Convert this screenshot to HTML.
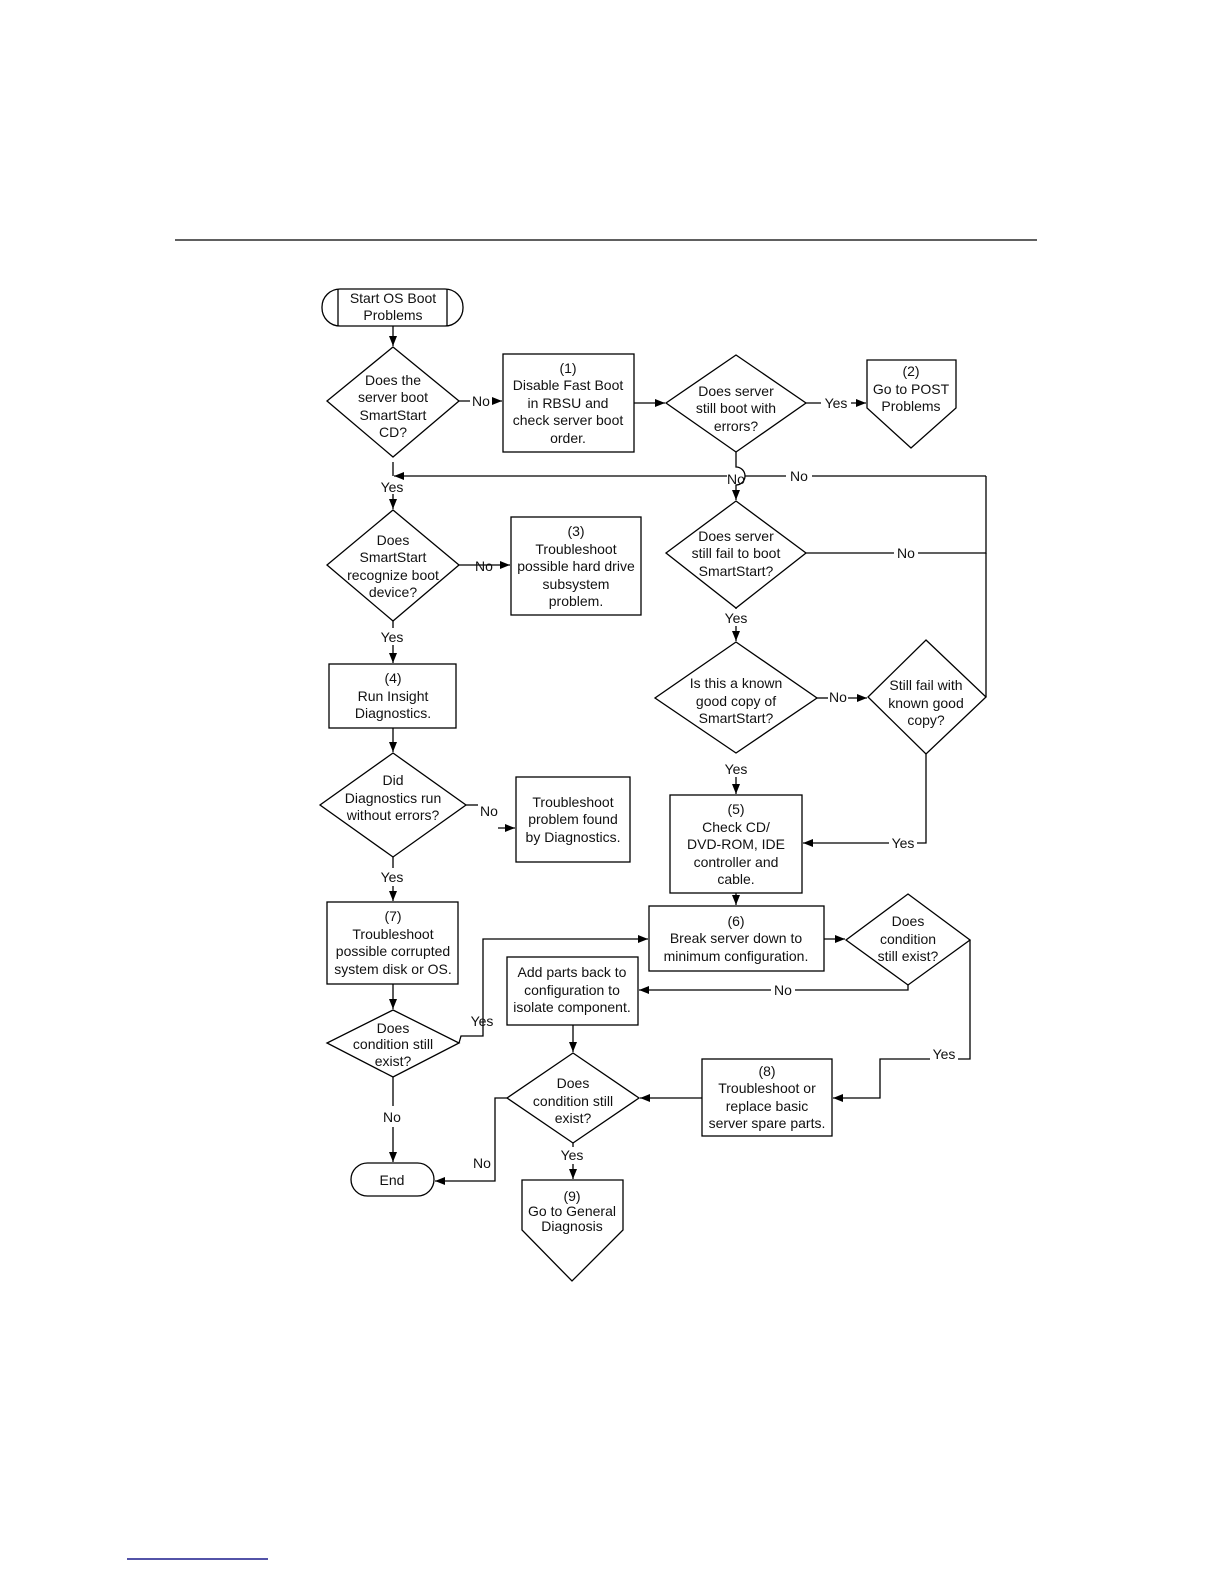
<!DOCTYPE html>
<html><head><meta charset="utf-8"><style>
html,body{margin:0;padding:0;background:#fff}
svg{display:block}
text{font-family:"Liberation Sans",sans-serif;font-size:14px;fill:#111;text-anchor:middle}
</style></head><body>
<svg width="1224" height="1584" viewBox="0 0 1224 1584" xmlns="http://www.w3.org/2000/svg">
<defs><marker id="a" markerWidth="10" markerHeight="8" refX="10" refY="4" orient="auto" markerUnits="userSpaceOnUse"><path d="M0,0 L10,4 L0,8 z" fill="#000"/></marker></defs>
<line x1="175" y1="240" x2="1037" y2="240" stroke="#000" stroke-width="1.2"/>
<line x1="127" y1="1559" x2="268" y2="1559" stroke="#1a1a8c" stroke-width="1.5"/>
<g fill="none" stroke="#000" stroke-width="1.3">
<!-- start -->
<rect x="322" y="289" width="141" height="37" rx="18"/>
<line x1="338" y1="289" x2="338" y2="326"/><line x1="447" y1="289" x2="447" y2="326"/>
<line x1="393" y1="326" x2="393" y2="346" marker-end="url(#a)"/>
<!-- D1 -->
<polygon points="393,347 459,401 393,457 327,401"/>
<line x1="459" y1="401" x2="502" y2="401" marker-end="url(#a)"/>
<rect x="503" y="354" width="131" height="98"/>
<line x1="634" y1="403" x2="665" y2="403" marker-end="url(#a)"/>
<polygon points="736,355 806,403 736,452 666,403"/>
<line x1="806" y1="403" x2="866" y2="403" marker-end="url(#a)"/>
<polygon points="867,360 956,360 956,408 911,448 867,408"/>
<!-- loop -->
<path d="M736,452 V467 A9,9 0 0 1 736,485 V500" marker-end="url(#a)"/>
<path d="M986,476 H745 M727,476 H394" marker-end="url(#a)"/>
<line x1="393" y1="462" x2="393" y2="476"/>
<line x1="393" y1="494" x2="393" y2="509" marker-end="url(#a)"/>
<!-- D3 -->
<polygon points="393,510 459,565 393,621 327,565"/>
<line x1="459" y1="565" x2="510" y2="565" marker-end="url(#a)"/>
<rect x="511" y="517" width="130" height="98"/>
<line x1="393" y1="621" x2="393" y2="628"/>
<line x1="393" y1="645" x2="393" y2="663" marker-end="url(#a)"/>
<rect x="329" y="664" width="127" height="64"/>
<line x1="393" y1="728" x2="393" y2="752" marker-end="url(#a)"/>
<!-- D7 -->
<polygon points="393,753 466,805 393,857 320,805"/>
<line x1="466" y1="805" x2="478" y2="805"/>
<line x1="498" y1="828" x2="515" y2="828" marker-end="url(#a)"/>
<rect x="516" y="777" width="114" height="85"/>
<line x1="393" y1="857" x2="393" y2="868"/>
<line x1="393" y1="886" x2="393" y2="901" marker-end="url(#a)"/>
<rect x="327" y="902" width="131" height="82"/>
<line x1="393" y1="984" x2="393" y2="1009" marker-end="url(#a)"/>
<!-- D8 -->
<polygon points="393,1010 459,1043 393,1077 327,1043"/>
<path d="M459,1043 L461,1036 H483 V939 H648" marker-end="url(#a)"/>
<line x1="393" y1="1077" x2="393" y2="1106"/>
<line x1="393" y1="1127" x2="393" y2="1162" marker-end="url(#a)"/>
<rect x="351" y="1163" width="83" height="33" rx="16.5"/>
<!-- right column -->
<polygon points="736,501 806,553 736,608 666,553"/>
<path d="M806,553 H894 M918,553 H986 V476"/>
<line x1="736" y1="608" x2="736" y2="609"/>
<line x1="736" y1="626" x2="736" y2="641" marker-end="url(#a)"/>
<polygon points="736,642 817,698 736,753 655,698"/>
<line x1="848" y1="698" x2="867" y2="698" marker-end="url(#a)"/>
<line x1="817" y1="698" x2="828" y2="698"/>
<polygon points="926,640 986,697 926,754 868,697"/>
<line x1="986" y1="697" x2="986" y2="553"/>
<path d="M926,754 V843 H916"/>
<line x1="890" y1="843" x2="803" y2="843" marker-end="url(#a)"/>
<line x1="736" y1="777" x2="736" y2="794" marker-end="url(#a)"/>
<rect x="670" y="795" width="132" height="98"/>
<line x1="736" y1="893" x2="736" y2="905" marker-end="url(#a)"/>
<rect x="649" y="906" width="175" height="65"/>
<line x1="824" y1="939" x2="845" y2="939" marker-end="url(#a)"/>
<polygon points="908,894 970,940 908,985 846,940"/>
<path d="M908,985 V990 H795 M771,990 H639" marker-end="url(#a)"/>
<path d="M970,940 V1059 H958 M930,1059 H880 V1098 H833" marker-end="url(#a)"/>
<rect x="507" y="957" width="131" height="68"/>
<line x1="573" y1="1025" x2="573" y2="1052" marker-end="url(#a)"/>
<polygon points="573,1053 639,1098 573,1143 507,1098"/>
<rect x="702" y="1059" width="130" height="77"/>
<line x1="702" y1="1098" x2="640" y2="1098" marker-end="url(#a)"/>
<path d="M507,1098 H495 V1181 H435" marker-end="url(#a)"/>
<line x1="573" y1="1143" x2="573" y2="1147"/>
<line x1="573" y1="1164" x2="573" y2="1179" marker-end="url(#a)"/>
<polygon points="522,1180 623,1180 623,1230 572,1281 522,1230"/>
</g>
<g fill="#fff"><rect x="470" y="394" width="22" height="15"/><rect x="821" y="396" width="30" height="15"/><rect x="786" y="469" width="26" height="15"/><rect x="894" y="546" width="24" height="15"/><rect x="828" y="690" width="20" height="15"/><rect x="889" y="836" width="28" height="15"/><rect x="772" y="983" width="23" height="15"/><rect x="930" y="1047" width="28" height="15"/></g>
<text x="393" y="303">Start OS Boot</text><text x="393" y="320">Problems</text>
<text x="393" y="385">Does the</text><text x="393" y="402">server boot</text><text x="393" y="420">SmartStart</text><text x="393" y="437">CD?</text>
<text x="481" y="406">No</text>
<text x="568" y="373">(1)</text><text x="568" y="390">Disable Fast Boot</text><text x="568" y="408">in RBSU and</text><text x="568" y="425">check server boot</text><text x="568" y="443">order.</text>
<text x="736" y="396">Does server</text><text x="736" y="413">still boot with</text><text x="736" y="431">errors?</text>
<text x="836" y="408">Yes</text>
<text x="911" y="376">(2)</text><text x="911" y="394">Go to POST</text><text x="911" y="411">Problems</text>
<text x="736" y="484">No</text><text x="799" y="481">No</text>
<text x="392" y="492">Yes</text>
<text x="393" y="545">Does</text><text x="393" y="562">SmartStart</text><text x="393" y="580">recognize boot</text><text x="393" y="597">device?</text>
<text x="484" y="571">No</text>
<text x="576" y="536">(3)</text><text x="576" y="554">Troubleshoot</text><text x="576" y="571">possible hard drive</text><text x="576" y="589">subsystem</text><text x="576" y="606">problem.</text>
<text x="392" y="642">Yes</text>
<text x="393" y="683">(4)</text><text x="393" y="701">Run Insight</text><text x="393" y="718">Diagnostics.</text>
<text x="736" y="541">Does server</text><text x="736" y="558">still fail to boot</text><text x="736" y="576">SmartStart?</text>
<text x="906" y="558">No</text>
<text x="736" y="623">Yes</text>
<text x="736" y="688">Is this a known</text><text x="736" y="706">good copy of</text><text x="736" y="723">SmartStart?</text>
<text x="838" y="702">No</text>
<text x="926" y="690">Still fail with</text><text x="926" y="708">known good</text><text x="926" y="725">copy?</text>
<text x="736" y="774">Yes</text>
<text x="903" y="848">Yes</text>
<text x="736" y="814">(5)</text><text x="736" y="832">Check CD/</text><text x="736" y="849">DVD-ROM, IDE</text><text x="736" y="867">controller and</text><text x="736" y="884">cable.</text>
<text x="393" y="785">Did</text><text x="393" y="803">Diagnostics run</text><text x="393" y="820">without errors?</text>
<text x="489" y="816">No</text>
<text x="573" y="807">Troubleshoot</text><text x="573" y="824">problem found</text><text x="573" y="842">by Diagnostics.</text>
<text x="392" y="882">Yes</text>
<text x="393" y="921">(7)</text><text x="393" y="939">Troubleshoot</text><text x="393" y="956">possible corrupted</text><text x="393" y="974">system disk or OS.</text>
<text x="393" y="1033">Does</text><text x="393" y="1049">condition still</text><text x="393" y="1066">exist?</text>
<text x="482" y="1026">Yes</text>
<text x="392" y="1122">No</text>
<text x="392" y="1185">End</text>
<text x="736" y="926">(6)</text><text x="736" y="943">Break server down to</text><text x="736" y="961">minimum configuration.</text>
<text x="908" y="926">Does</text><text x="908" y="944">condition</text><text x="908" y="961">still exist?</text>
<text x="783" y="995">No</text>
<text x="572" y="977">Add parts back to</text><text x="572" y="995">configuration to</text><text x="572" y="1012">isolate component.</text>
<text x="944" y="1059">Yes</text>
<text x="767" y="1076">(8)</text><text x="767" y="1093">Troubleshoot or</text><text x="767" y="1111">replace basic</text><text x="767" y="1128">server spare parts.</text>
<text x="573" y="1088">Does</text><text x="573" y="1106">condition still</text><text x="573" y="1123">exist?</text>
<text x="482" y="1168">No</text>
<text x="572" y="1160">Yes</text>
<text x="572" y="1201">(9)</text><text x="572" y="1216">Go to General</text><text x="572" y="1231">Diagnosis</text>
</svg>
</body></html>
